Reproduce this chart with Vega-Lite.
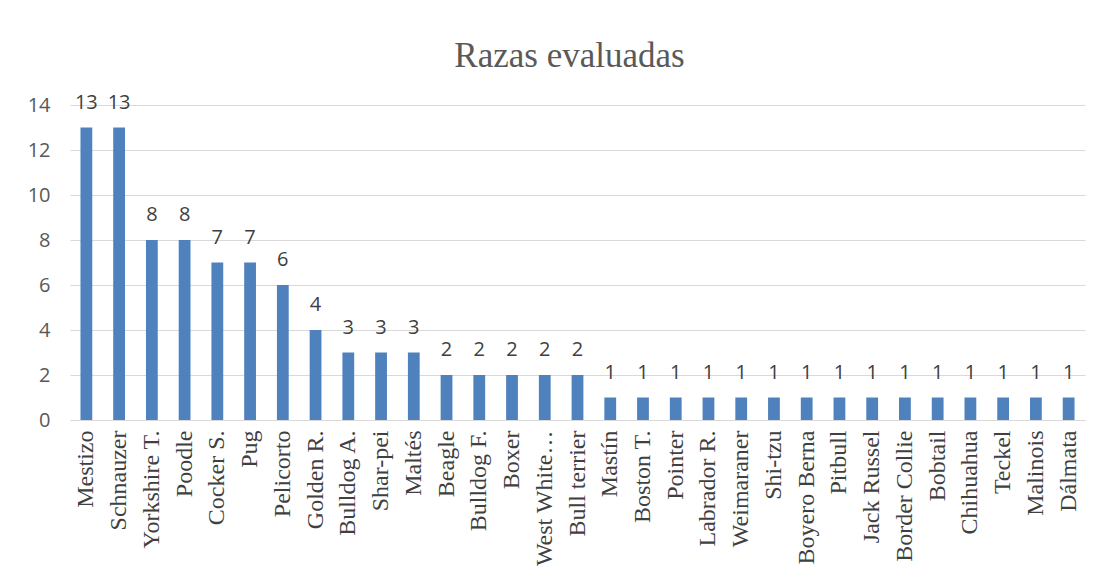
{
  "$schema": "https://vega.github.io/schema/vega-lite/v6.json",
  "width": 1015,
  "height": 315,
  "autosize": {"type": "none"},
  "padding": {"left": 70, "top": 105, "right": 21, "bottom": 160},
  "background": "white",
  "config": {"view": {"stroke": null}},
  "title": {
    "text": "Razas evaluadas",
    "font": "Liberation Serif",
    "fontSize": 35,
    "fontWeight": "normal",
    "color": "#595959",
    "anchor": "middle",
    "dx": -8,
    "offset": 19
  },
  "data": {
    "values": [
      {"raza": "Mestizo", "n": 13},
      {"raza": "Schnauzer", "n": 13},
      {"raza": "Yorkshire T.", "n": 8},
      {"raza": "Poodle", "n": 8},
      {"raza": "Cocker S.", "n": 7},
      {"raza": "Pug", "n": 7},
      {"raza": "Pelicorto", "n": 6},
      {"raza": "Golden R.", "n": 4},
      {"raza": "Bulldog A.", "n": 3},
      {"raza": "Shar-pei", "n": 3},
      {"raza": "Maltés", "n": 3},
      {"raza": "Beagle", "n": 2},
      {"raza": "Bulldog F.", "n": 2},
      {"raza": "Boxer", "n": 2},
      {"raza": "West White…", "n": 2},
      {"raza": "Bull terrier", "n": 2},
      {"raza": "Mastín", "n": 1},
      {"raza": "Boston T.", "n": 1},
      {"raza": "Pointer", "n": 1},
      {"raza": "Labrador R.", "n": 1},
      {"raza": "Weimaraner", "n": 1},
      {"raza": "Shi-tzu", "n": 1},
      {"raza": "Boyero Berna", "n": 1},
      {"raza": "Pitbull", "n": 1},
      {"raza": "Jack Russel", "n": 1},
      {"raza": "Border Collie", "n": 1},
      {"raza": "Bobtail", "n": 1},
      {"raza": "Chihuahua", "n": 1},
      {"raza": "Teckel", "n": 1},
      {"raza": "Malinois", "n": 1},
      {"raza": "Dálmata", "n": 1}
    ]
  },
  "encoding": {
    "x": {
      "field": "raza",
      "type": "nominal",
      "sort": null,
      "scale": {"paddingInner": 0.64, "paddingOuter": 0.32},
      "axis": {
        "title": null,
        "labelAngle": -90,
        "labelFont": "Liberation Serif",
        "labelFontSize": 24,
        "labelColor": "#404040",
        "labelPadding": 10,
        "ticks": false,
        "domainColor": "#d9d9d9",
        "labelLimit": 200
      }
    },
    "y": {
      "field": "n",
      "type": "quantitative",
      "scale": {"domain": [0, 14]},
      "axis": {
        "title": null,
        "values": [0, 2, 4, 6, 8, 10, 12, 14],
        "labelFont": "Open Sans",
        "labelFontSize": 20,
        "labelColor": "#595959",
        "labelPadding": 20,
        "ticks": false,
        "domain": false,
        "gridColor": "#d9d9d9"
      }
    }
  },
  "layer": [
    {"mark": {"type": "bar", "color": "#4f81bd"}},
    {
      "mark": {
        "type": "text",
        "dy": -25,
        "font": "Open Sans",
        "fontSize": 20,
        "color": "#404040"
      },
      "encoding": {"text": {"field": "n", "type": "quantitative"}}
    }
  ]
}
